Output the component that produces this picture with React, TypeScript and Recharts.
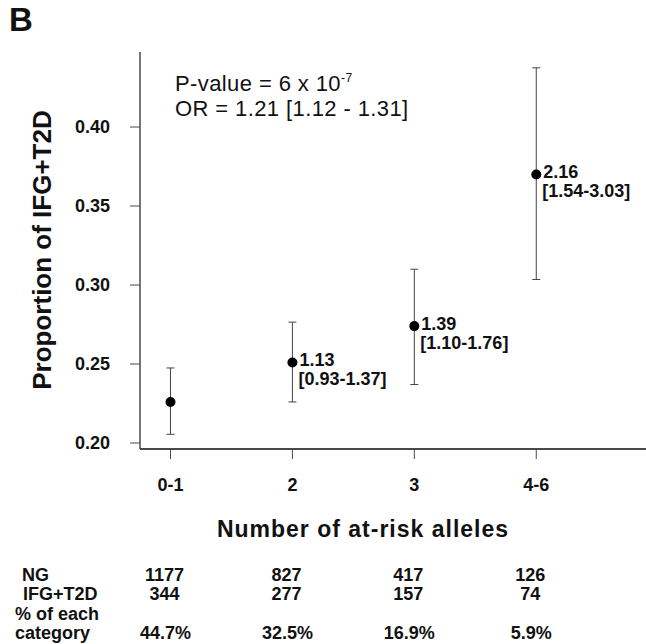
import React from 'react';
import { ScatterChart, Scatter, XAxis, YAxis, ErrorBar } from 'recharts';

const categories = ['0-1', '2', '3', '4-6'];
const allelePos = [1, 2, 3, 4];
const proportion = [0.226, 0.251, 0.274, 0.370];
const ciLow = [0.2055, 0.226, 0.237, 0.3035];
const ciHigh = [0.2475, 0.2765, 0.31, 0.4375];
const orValue = ['', '1.13', '1.39', '2.16'];
const orCI = ['', '[0.93-1.37]', '[1.10-1.76]', '[1.54-3.03]'];
const ngCounts = [1177, 827, 417, 126];
const ifgCounts = [344, 277, 157, 74];
const pctCategory = ['44.7%', '32.5%', '16.9%', '5.9%'];
const yTicks = [0.2, 0.25, 0.3, 0.35, 0.4];

const FONT = '"Liberation Sans", Arial, Helvetica, sans-serif';
const AXIS_GREY = '#4a4a4a';

const data = allelePos.map((x, i) => ({
    x,
    y: proportion[i],
    err: [proportion[i] - ciLow[i], ciHigh[i] - proportion[i]],
    or: orValue[i],
    ci: orCI[i],
}));

// eslint-disable-next-line @typescript-eslint/no-explicit-any
function PointShape(props: any) {
    const { cx, cy, payload } = props;
    const st = { fontFamily: FONT, fontSize: 18, fontWeight: 700, fill: '#111' };
    return (
        <g>
            <circle cx={cx} cy={cy} r={5} fill="#000" />
            {payload.or && (
                <text x={cx + 7} y={cy + 4} style={st}>
                    {payload.or}
                </text>
            )}
            {payload.ci && (
                <text x={cx + 6} y={cy + 23} style={st}>
                    {payload.ci}
                </text>
            )}
        </g>
    );
}

// eslint-disable-next-line @typescript-eslint/no-explicit-any
function AlleleTick(props: any) {
    const { x, y, payload } = props;
    const i = allelePos.indexOf(payload.value);
    const st = { fontFamily: FONT, fontSize: 18, fontWeight: 700, fill: '#111' };
    return (
        <g>
            <text x={x} y={y + 32} textAnchor="middle" style={st}>
                {categories[i]}
            </text>
            <text x={x - 6} y={y + 122} textAnchor="middle" style={st}>{ngCounts[i]}</text>
            <text x={x - 6} y={y + 141} textAnchor="middle" style={st}>{ifgCounts[i]}</text>
            <text x={x - 5} y={y + 180} textAnchor="middle" style={st}>{pctCategory[i]}</text>
        </g>
    );
}

export default function App() {
    const label = { fontFamily: FONT, fill: '#111' };
    return (
        <div style={{ position: 'absolute', left: 0, top: 0, width: 646, height: 644, background: '#fff' }}>
            <ScatterChart width={646} height={644} margin={{ top: 52, right: 0, bottom: 0, left: 0 }}>
                <XAxis
                    type="number"
                    dataKey="x"
                    domain={[0.75, 4.9]}
                    ticks={allelePos}
                    allowDataOverflow
                    height={195}
                    tickSize={10}
                    tickMargin={0}
                    tick={<AlleleTick />}
                    axisLine={{ stroke: AXIS_GREY, strokeWidth: 2 }}
                    tickLine={{ stroke: AXIS_GREY, strokeWidth: 1 }}
                />
                <YAxis
                    type="number"
                    dataKey="y"
                    domain={[0.1962, 0.4475]}
                    ticks={yTicks}
                    allowDataOverflow
                    width={140}
                    tickSize={10}
                    tickMargin={20}
                    tickFormatter={(v: number) => v.toFixed(2)}
                    tick={{ fontFamily: FONT, fontSize: 18, fontWeight: 700, fill: '#111' }}
                    axisLine={{ stroke: AXIS_GREY, strokeWidth: 1.5 }}
                    tickLine={{ stroke: AXIS_GREY, strokeWidth: 1 }}
                />
                <Scatter data={data} shape={<PointShape />} isAnimationActive={false}>
                    <ErrorBar dataKey="err" direction="y" width={4} stroke="#444" strokeWidth={1} />
                </Scatter>
                <text x={9} y={31} style={{ ...label, fontSize: 33, fontWeight: 700 }}>B</text>
                <text x={175} y={91} style={{ ...label, fontSize: 22, letterSpacing: 0.4 }}>
                    P-value = 6 x 10
                    <tspan dy={-9} style={{ fontSize: 12 }}>-7</tspan>
                </text>
                <text x={175} y={116} style={{ ...label, fontSize: 22, letterSpacing: 0.4 }}>
                    OR = 1.21 [1.12 - 1.31]
                </text>
                <text
                    x={0}
                    y={0}
                    transform="translate(51, 250) rotate(-90)"
                    textAnchor="middle"
                    style={{ ...label, fontSize: 26, fontWeight: 700 }}
                >
                    Proportion of IFG+T2D
                </text>
                <text x={363} y={537} textAnchor="middle" style={{ ...label, fontSize: 23, fontWeight: 700, letterSpacing: 1 }}>
                    Number of at-risk alleles
                </text>
                <text x={22} y={581} style={{ ...label, fontSize: 18, fontWeight: 700 }}>NG</text>
                <text x={23} y={600} style={{ ...label, fontSize: 18, fontWeight: 700 }}>IFG+T2D</text>
                <text x={15} y={620} style={{ ...label, fontSize: 18, fontWeight: 700 }}>% of each</text>
                <text x={15} y={639} style={{ ...label, fontSize: 18, fontWeight: 700 }}>category</text>
            </ScatterChart>
        </div>
    );
}
